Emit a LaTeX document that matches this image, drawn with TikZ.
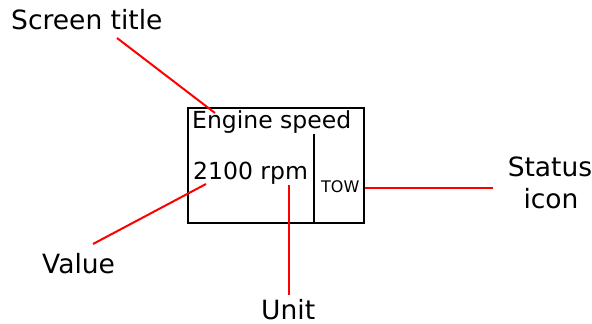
\documentclass[tikz,border=0pt]{standalone}
\usepackage{fontspec}
\setmainfont{DejaVu Sans}
\begin{document}
\begin{tikzpicture}[x=1pt,y=-1pt,
  lbl/.style={inner sep=0pt, font=\fontsize{26.5}{32}\selectfont},
  scr/.style={inner sep=0pt, font=\fontsize{23.5}{26}\selectfont},
  callout/.style={draw=red, line width=2pt},
  frame/.style={draw=black, line width=1.8pt}]
\useasboundingbox (0,0) rectangle (592,324);
% screen box
\node[frame, inner sep=0pt, minimum width=176pt, minimum height=115pt, anchor=north west] (screen) at (187,107) {};
\coordinate (divtop) at (314,134);
\draw[frame] (divtop) -- (divtop |- screen.south);
\node[scr, anchor=base west] (eng) at (192,128) {Engine speed};
\node[scr, anchor=base west] (val) at (193,179) {2100 rpm};
\node[inner sep=0pt, font=\fontsize{16}{19}\selectfont, anchor=base west] (tow) at (321,192) {TOW};
% labels
\node[lbl, anchor=base west] (title) at (11,29) {Screen title};
\node[lbl, anchor=base west] (value) at (42,273) {Value};
\node[lbl, anchor=base west] (unit) at (261,319) {Unit};
\node[lbl, anchor=base] (status1) at (550,176) {Status};
\node[lbl, anchor=base] (status2) at (551,208) {icon};
% callout end points
\coordinate (t1) at (117,38);
\coordinate (t2) at (215,113);
\coordinate (v1) at (93,244);
\coordinate (v2) at (206,184);
\coordinate (u1) at (289,295);
\coordinate (u2) at (289,185);
\coordinate (s1) at (493,188);
\coordinate (s2) at (screen.east |- s1);
\draw[callout] (t1) -- (t2);
\draw[callout] (v1) -- (v2);
\draw[callout] (u1) -- (u2);
\draw[callout] (s1) -- (s2);
\end{tikzpicture}
\end{document}
